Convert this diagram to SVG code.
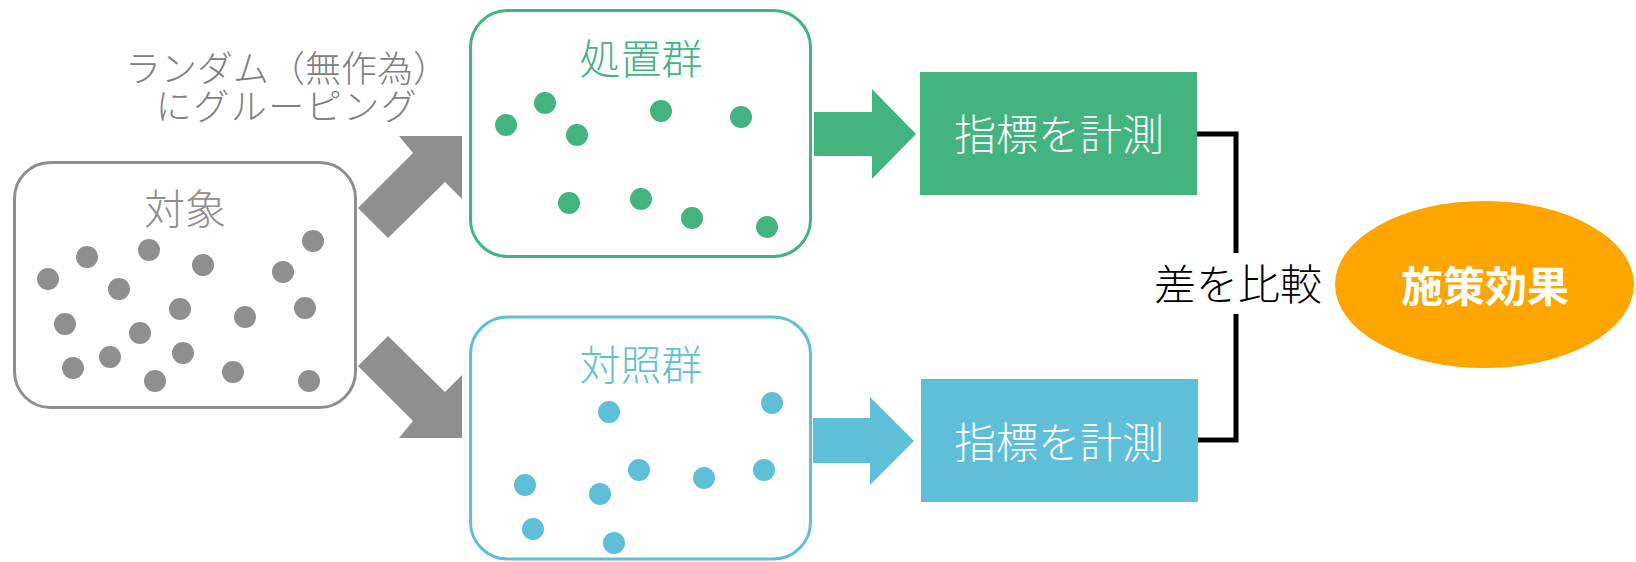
<svg xmlns="http://www.w3.org/2000/svg" width="1636" height="562" viewBox="0 0 1636 562">
  <style>
    text { font-family: "Noto Sans CJK JP", "Noto Sans", sans-serif; font-weight: 300; }
    .box { fill: #FFFFFF; stroke-width: 3; }
    .gray { fill: #8F8F8F; }
    .green { fill: #43B380; }
    .blue { fill: #5FBFD8; }
    .lbl { font-size: 41px; text-anchor: middle; }
    .meas { font-size: 42px; text-anchor: middle; fill: #FFFFFF; }
  </style>
  <rect width="1636" height="562" fill="#FFFFFF"/>

  <g id="connectors">
    <polygon class="gray" points="358,208 413,153 399,136 462,136 462,199 445,182 388,238"/>
    <polygon class="gray" points="358,366 413,421 399,438 462,438 462,375 445,392 388,336"/>
    <polygon class="green" points="814,112 872,112 872,89 916,134 872,179 872,156 814,156"/>
    <polygon class="blue" points="813,418 870,418 870,397 914,441 870,485 870,463 813,463"/>
    <path d="M1197,134 H1236 V253 M1236,314 V440 H1198" fill="none" stroke="#000000" stroke-width="5" stroke-linejoin="miter"/>
    <text x="1238" y="300" font-size="42" text-anchor="middle" fill="#000000">差を比較</text>
  </g>

  <g id="grouping-label">
    <text font-size="36" text-anchor="middle" fill="#808080"><tspan x="287" y="82">ランダム（無作為）</tspan><tspan x="287" y="120" letter-spacing="1.5">にグルーピング</tspan></text>
  </g>

  <g id="target">
    <rect class="box" x="14.5" y="162.5" width="341" height="245" rx="36" stroke="#8F8F8F"/>
    <text class="lbl" x="185" y="224" fill="#8F8F8F">対象</text>
    <g class="gray">
      <circle cx="48" cy="279" r="11"/>
      <circle cx="87" cy="257" r="11"/>
      <circle cx="149" cy="250" r="11"/>
      <circle cx="203" cy="265" r="11"/>
      <circle cx="283" cy="272" r="11"/>
      <circle cx="313" cy="241" r="11"/>
      <circle cx="119" cy="289" r="11"/>
      <circle cx="65" cy="324" r="11"/>
      <circle cx="180" cy="309" r="11"/>
      <circle cx="245" cy="317" r="11"/>
      <circle cx="305" cy="308" r="11"/>
      <circle cx="140" cy="333" r="11"/>
      <circle cx="183" cy="353" r="11"/>
      <circle cx="110" cy="357" r="11"/>
      <circle cx="73" cy="368" r="11"/>
      <circle cx="155" cy="381" r="11"/>
      <circle cx="233" cy="372" r="11"/>
      <circle cx="309" cy="381" r="11"/>
    </g>
  </g>

  <g id="treatment">
    <rect class="box" x="470.5" y="10.5" width="340" height="246" rx="37" stroke="#43B380"/>
    <text class="lbl" x="641" y="74" fill="#43B380">処置群</text>
    <g class="green">
      <circle cx="506" cy="125" r="11"/>
      <circle cx="545" cy="103" r="11"/>
      <circle cx="577" cy="135" r="11"/>
      <circle cx="661" cy="111" r="11"/>
      <circle cx="741" cy="117" r="11"/>
      <circle cx="569" cy="203" r="11"/>
      <circle cx="641" cy="199" r="11"/>
      <circle cx="692" cy="218" r="11"/>
      <circle cx="767" cy="227" r="11"/>
    </g>
  </g>

  <g id="control">
    <rect class="box" x="470.5" y="317" width="340" height="242" rx="37" stroke="#5FBFD8"/>
    <text class="lbl" x="641" y="380" fill="#5FBFD8">対照群</text>
    <g class="blue">
      <circle cx="609" cy="412" r="11"/>
      <circle cx="772" cy="403" r="11"/>
      <circle cx="525" cy="485" r="11"/>
      <circle cx="600" cy="494" r="11"/>
      <circle cx="639" cy="470" r="11"/>
      <circle cx="704" cy="478" r="11"/>
      <circle cx="764" cy="470" r="11"/>
      <circle cx="533" cy="529" r="11"/>
      <circle cx="614" cy="543" r="11"/>
    </g>
  </g>

  <g id="measure-treatment">
    <rect class="green" x="920" y="72" width="277" height="123"/>
    <text class="meas" x="1059" y="150">指標を計測</text>
  </g>

  <g id="measure-control">
    <rect class="blue" x="921" y="379" width="277" height="123"/>
    <text class="meas" x="1059" y="458">指標を計測</text>
  </g>

  <g id="effect">
    <ellipse cx="1484.5" cy="284.5" rx="149.5" ry="83.5" fill="#FFA500"/>
    <text x="1485" y="302" font-size="42" text-anchor="middle" fill="#FFFFFF" style="font-weight:700">施策効果</text>
  </g>
</svg>
